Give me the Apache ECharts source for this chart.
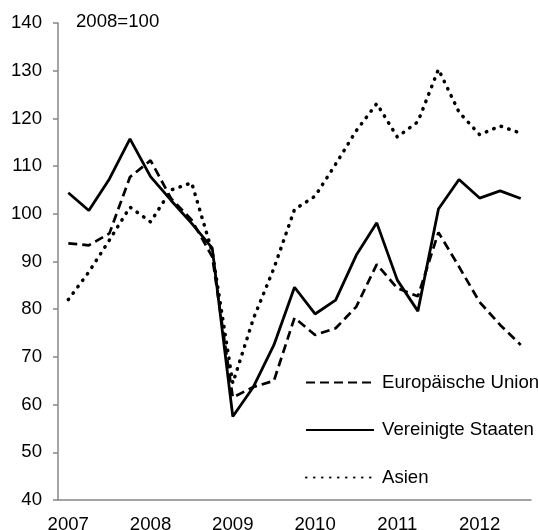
<!DOCTYPE html>
<html>
<head>
<meta charset="utf-8">
<script src="https://cdn.jsdelivr.net/npm/echarts@6/dist/echarts.min.js"></script>
<style>
  html, body { margin: 0; padding: 0; background: #fff; }
  #main { width: 538px; height: 530px; }
</style>
</head>
<body>
<div id="main"></div>
<script>
// Quartale 2007Q1 - 2012Q3
const quarters = [
  "2007Q1", "2007Q2", "2007Q3", "2007Q4",
  "2008Q1", "2008Q2", "2008Q3", "2008Q4",
  "2009Q1", "2009Q2", "2009Q3", "2009Q4",
  "2010Q1", "2010Q2", "2010Q3", "2010Q4",
  "2011Q1", "2011Q2", "2011Q3", "2011Q4",
  "2012Q1", "2012Q2", "2012Q3",
];
const yearLabels = ["2007", "2008", "2009", "2010", "2011", "2012"];
const yTicks = [40, 50, 60, 70, 80, 90, 100, 110, 120, 130, 140];

// Index 2008=100
const eu = [93.8, 93.4, 95.9, 107.7, 111.2, 103.2, 98.7, 91.0, 61.5, 63.7, 65.0, 78.2,
  74.6, 76.0, 80.5, 89.4, 84.4, 82.7, 96.1, 88.9, 81.5, 76.7, 72.5];
const usa = [104.4, 100.7, 107.3, 115.7, 107.8, 102.8, 98.0, 92.8, 57.5, 63.7, 72.5, 84.6,
  79.0, 81.9, 91.3, 98.1, 86.1, 79.6, 101.0, 107.2, 103.3, 104.8, 103.2];
const asia = [82.0, 87.8, 94.5, 101.4, 98.3, 105.0, 106.5, 92.0, 64.5, 78.0, 88.6, 100.9,
  103.7, 110.4, 117.4, 123.1, 116.1, 119.3, 130.3, 121.3, 116.6, 118.4, 116.9];

const font = "'Liberation Sans', Arial, sans-serif";
const fontSize = 18.6;
const axisColor = "#868686";

const myChart = echarts.init(document.querySelector("#main"));
const option = {
  animation: false,
  title: {
    text: "2008=100",
    left: 76,
    top: 12,
    padding: 0,
    textStyle: { fontFamily: font, fontSize: fontSize, fontWeight: "normal", color: "#000" },
  },
  grid: {
    left: 58,
    right: 7,
    top: 23,
    bottom: 30,
    containLabel: false,
    outerBoundsMode: "none",
  },
  legend: {
    orient: "vertical",
    left: 305,
    top: 373,
    padding: 0,
    itemWidth: 68,
    itemHeight: 18,
    itemGap: 28.5,
    itemStyle: { opacity: 0 },
    textStyle: { fontFamily: font, fontSize: fontSize, color: "#000", padding: [0, 0, 0, 3] },
    data: ["Europäische Union", "Vereinigte Staaten", "Asien"],
  },
  xAxis: {
    type: "category",
    data: quarters,
    boundaryGap: true,
    axisLine: { lineStyle: { color: axisColor, width: 1.5 } },
    axisTick: { interval: 0, length: 5, lineStyle: { color: axisColor, width: 1.5 } },
    axisLabel: {
      interval: 3,
      margin: 15,
      fontFamily: font,
      fontSize: fontSize,
      color: "#000",
      formatter: (v) => yearLabels.find((y) => v.startsWith(y)) || "",
    },
    splitLine: { show: false },
  },
  yAxis: {
    type: "value",
    min: yTicks[0],
    max: yTicks[yTicks.length - 1],
    interval: 10,
    axisLine: { show: true, lineStyle: { color: axisColor, width: 1.5 } },
    axisTick: { show: true, length: 5, lineStyle: { color: axisColor, width: 1.5 } },
    axisLabel: { margin: 16, fontFamily: font, fontSize: fontSize, color: "#000" },
    splitLine: { show: false },
  },
  series: [
    {
      name: "Europäische Union",
      type: "line",
      data: eu,
      symbol: "none",
      color: "#000",
      lineStyle: { color: "#000", width: 2.7, type: [9, 5] },
    },
    {
      name: "Vereinigte Staaten",
      type: "line",
      data: usa,
      symbol: "none",
      color: "#000",
      lineStyle: { color: "#000", width: 2.8 },
    },
    {
      name: "Asien",
      type: "line",
      data: asia,
      symbol: "none",
      color: "#000",
      lineStyle: { color: "#000", width: 3.5, type: [0.5, 7.5], cap: "round" },
    },
  ],
};
myChart.setOption(option);
</script>
</body>
</html>
